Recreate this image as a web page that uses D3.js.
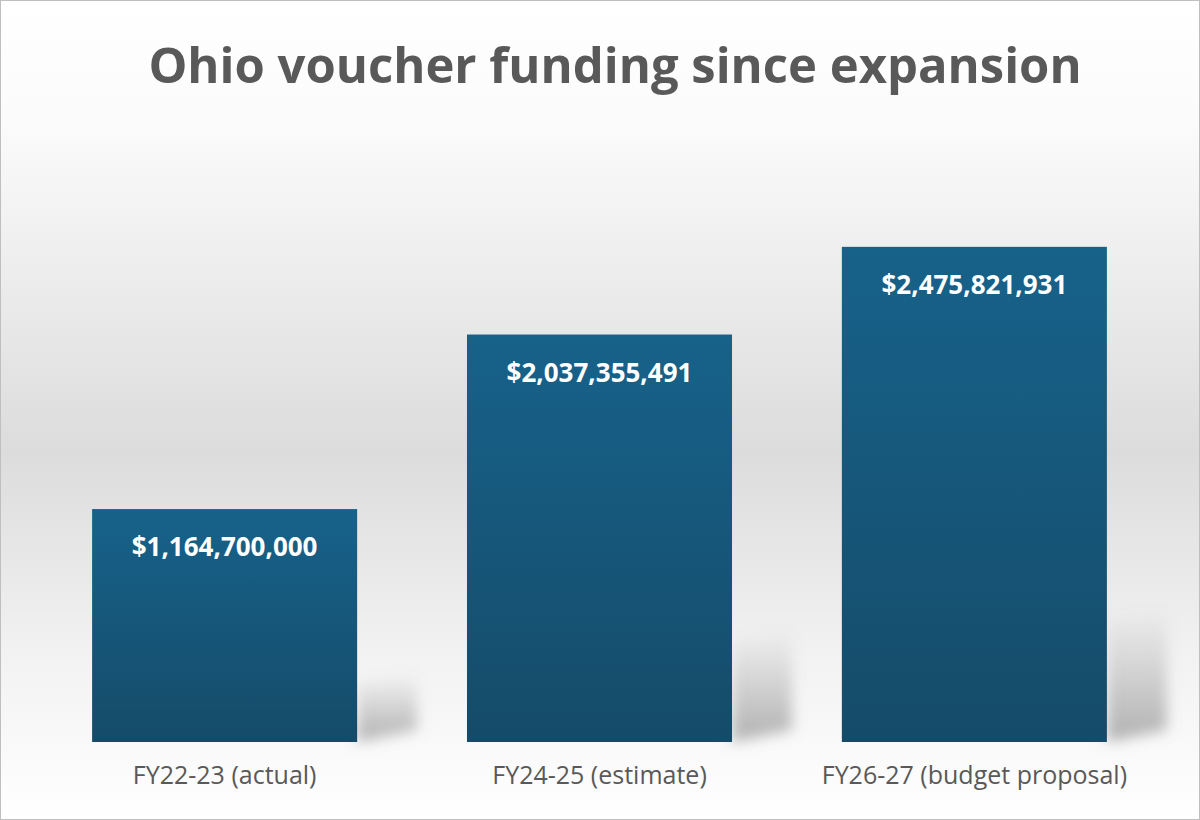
<!DOCTYPE html>
<html><head><meta charset="utf-8">
<script src="https://cdn.jsdelivr.net/npm/d3@7"></script>
<style>body{margin:0;background:#fff}</style>
</head><body>
<script>
const categories = ["FY22-23 (actual)", "FY24-25 (estimate)", "FY26-27 (budget proposal)"];
const values = [1164700000, 2037355491, 2475821931];
const title = "Ohio voucher funding since expansion";

const W = 1200, H = 820;
const svg = d3.select("body").append("svg").attr("width", W).attr("height", H);
const defs = svg.append("defs");

const bg = defs.append("linearGradient").attr("id", "bg").attr("x1", 0).attr("y1", 0).attr("x2", 0).attr("y2", 1);
bg.append("stop").attr("offset", "0%").attr("stop-color", "#ffffff");
bg.append("stop").attr("offset", "15%").attr("stop-color", "#fbfbfb");
bg.append("stop").attr("offset", "55%").attr("stop-color", "#dcdcdc");
bg.append("stop").attr("offset", "80%").attr("stop-color", "#f2f2f2");
bg.append("stop").attr("offset", "100%").attr("stop-color", "#ffffff");

const bar = defs.append("linearGradient").attr("id", "bar").attr("x1", 0).attr("y1", 0).attr("x2", 0).attr("y2", 1);
bar.append("stop").attr("offset", "0%").attr("stop-color", "#17628a");
bar.append("stop").attr("offset", "100%").attr("stop-color", "#154b69");

const sh = defs.append("linearGradient").attr("id", "sh").attr("x1", 0).attr("y1", 1).attr("x2", 0).attr("y2", 0);
sh.append("stop").attr("offset", "0%").attr("stop-color", "#808080").attr("stop-opacity", 0.6);
sh.append("stop").attr("offset", "100%").attr("stop-color", "#808080").attr("stop-opacity", 0);

defs.append("filter").attr("id", "blur").attr("x", "-50%").attr("y", "-50%").attr("width", "200%").attr("height", "200%")
  .append("feGaussianBlur").attr("stdDeviation", 7);

svg.append("rect").attr("x", 0.5).attr("y", 0.5).attr("width", W - 1).attr("height", H - 1)
  .attr("fill", "url(#bg)").attr("stroke", "#bfbfbf");

const x = d3.scaleBand().domain(categories).range([37, 1162]).paddingInner(0.293).paddingOuter(0.147);
const y = d3.scaleLinear().domain([0, 3.4e9]).range([742, 62]);

// shadows
svg.selectAll(".shadow").data(values).join("path")
  .attr("d", (d, i) => {
    const x1 = x(categories[i]) + x.bandwidth(), h = (742 - y(d)) * 0.25;
    return `M${x1},742 L${x1},${742 - h} L${x1 + 60},${742 - h - 10} L${x1 + 60},730 Z`;
  })
  .attr("fill", "url(#sh)").attr("filter", "url(#blur)");

svg.selectAll(".bar").data(values).join("rect")
  .attr("x", (d, i) => x(categories[i])).attr("width", x.bandwidth())
  .attr("y", d => y(d)).attr("height", d => 742 - y(d))
  .attr("fill", "url(#bar)");

svg.selectAll(".val").data(values).join("text")
  .attr("x", (d, i) => x(categories[i]) + x.bandwidth() / 2)
  .attr("y", d => y(d) + 47)
  .attr("text-anchor", "middle").attr("fill", "#fff")
  .attr("font-family", "Open Sans, sans-serif").attr("font-weight", "bold").attr("font-size", 26)
  .text(d => "$" + d3.format(",")(d));

const xa = svg.append("g").attr("transform", "translate(0,742)")
  .call(d3.axisBottom(x).tickSize(0).tickPadding(24));
xa.select(".domain").remove();
xa.selectAll("text").attr("fill", "#595959").attr("font-family", "Open Sans, sans-serif").attr("font-size", 25);

svg.append("text").attr("x", 615).attr("y", 83).attr("text-anchor", "middle")
  .attr("fill", "#595959").attr("font-family", "Open Sans, sans-serif").attr("font-weight", "bold")
  .attr("font-size", 49).text(title);
</script>
</body></html>
